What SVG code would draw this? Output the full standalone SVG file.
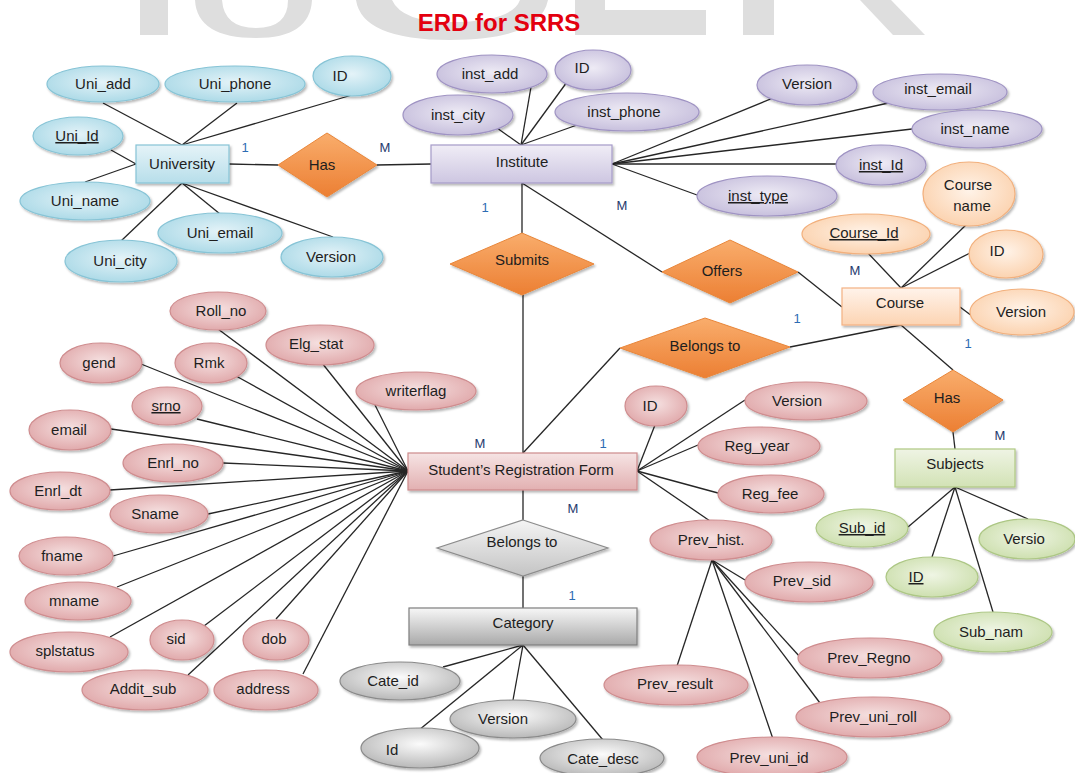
<svg xmlns="http://www.w3.org/2000/svg" width="1075" height="773" viewBox="0 0 1075 773">
<defs>
<filter id="sh" x="-20%" y="-20%" width="140%" height="150%"><feDropShadow dx="1.5" dy="2" stdDeviation="1.2" flood-color="#000" flood-opacity="0.28"/></filter>
<radialGradient id="gBlue" cx="50%" cy="45%" r="60%"><stop offset="0" stop-color="#e4f3f8"/><stop offset="1" stop-color="#a8d8e6"/></radialGradient>
<radialGradient id="gLav" cx="50%" cy="45%" r="60%"><stop offset="0" stop-color="#eeebf5"/><stop offset="1" stop-color="#c4bcdb"/></radialGradient>
<radialGradient id="gPeach" cx="50%" cy="45%" r="60%"><stop offset="0" stop-color="#fff3e8"/><stop offset="1" stop-color="#fbd0ab"/></radialGradient>
<radialGradient id="gPink" cx="50%" cy="45%" r="60%"><stop offset="0" stop-color="#f5e0e0"/><stop offset="1" stop-color="#dfa5a7"/></radialGradient>
<radialGradient id="gGreen" cx="50%" cy="45%" r="60%"><stop offset="0" stop-color="#eff5e4"/><stop offset="1" stop-color="#cbdeab"/></radialGradient>
<radialGradient id="gGrey" cx="50%" cy="40%" r="60%"><stop offset="0" stop-color="#fbfbfb"/><stop offset="1" stop-color="#b8b8b8"/></radialGradient>
<linearGradient id="rBlue" x1="0" y1="0" x2="0" y2="1"><stop offset="0" stop-color="#e5f3f8"/><stop offset="1" stop-color="#b7deea"/></linearGradient>
<linearGradient id="rLav" x1="0" y1="0" x2="0" y2="1"><stop offset="0" stop-color="#f0edf6"/><stop offset="1" stop-color="#cdc6e1"/></linearGradient>
<linearGradient id="rPeach" x1="0" y1="0" x2="0" y2="1"><stop offset="0" stop-color="#fff3ea"/><stop offset="1" stop-color="#fcd4b3"/></linearGradient>
<linearGradient id="rPink" x1="0" y1="0" x2="0" y2="1"><stop offset="0" stop-color="#f6e4e4"/><stop offset="1" stop-color="#e2b0b1"/></linearGradient>
<linearGradient id="rGreen" x1="0" y1="0" x2="0" y2="1"><stop offset="0" stop-color="#eff4e4"/><stop offset="1" stop-color="#d2e2b5"/></linearGradient>
<linearGradient id="rGrey" x1="0" y1="0" x2="0" y2="1"><stop offset="0" stop-color="#f7f7f7"/><stop offset="1" stop-color="#a9a9a9"/></linearGradient>
<linearGradient id="dOrange" x1="0" y1="0" x2="0" y2="1"><stop offset="0" stop-color="#f9ad6c"/><stop offset="1" stop-color="#ec7f33"/></linearGradient>
<linearGradient id="dGrey" x1="0" y1="0" x2="0" y2="1"><stop offset="0" stop-color="#f4f4f4"/><stop offset="1" stop-color="#c4c4c4"/></linearGradient>
</defs>
<style>
text{font-family:"Liberation Sans",Arial,sans-serif;font-size:15px;fill:#1e1e1e;text-anchor:middle}
.ul{text-decoration:underline}
.card{font-size:13px}
.one{fill:#2c6db3}
.many{fill:#1f3a6e}
.title{font-size:24px;font-weight:bold;fill:#e3000f}
.eb{fill:url(#gBlue);stroke:#87c4d6;stroke-width:1.2;filter:url(#sh)}
.el{fill:url(#gLav);stroke:#9f93c3;stroke-width:1.2;filter:url(#sh)}
.ep{fill:url(#gPeach);stroke:#f2b07d;stroke-width:1.2;filter:url(#sh)}
.ek{fill:url(#gPink);stroke:#cf8d8f;stroke-width:1.2;filter:url(#sh)}
.eg{fill:url(#gGreen);stroke:#adc785;stroke-width:1.2;filter:url(#sh)}
.ey{fill:url(#gGrey);stroke:#8a8a8a;stroke-width:1.2;filter:url(#sh)}
.rb{fill:url(#rBlue);stroke:#86c3d6;stroke-width:1.2;filter:url(#sh)}
.rl{fill:url(#rLav);stroke:#a69bc9;stroke-width:1.2;filter:url(#sh)}
.rp{fill:url(#rPeach);stroke:#f4b183;stroke-width:1.2;filter:url(#sh)}
.rk{fill:url(#rPink);stroke:#cd8b8c;stroke-width:1.2;filter:url(#sh)}
.rg{fill:url(#rGreen);stroke:#afc982;stroke-width:1.2;filter:url(#sh)}
.ry{fill:url(#rGrey);stroke:#7f7f7f;stroke-width:1.2;filter:url(#sh)}
.dor{fill:url(#dOrange);stroke:#e8863a;stroke-width:1;filter:url(#sh)}
.dgr{fill:url(#dGrey);stroke:#8c8c8c;stroke-width:1.2;filter:url(#sh)}
#connectors line{stroke:#262626;stroke-width:1.3}
.wm{fill:#dedede}
</style>
<rect width="1075" height="773" fill="#ffffff"/>
<g id="watermark">
<rect class="wm" x="140" y="0" width="28" height="35"/>
<path class="wm" d="M195,0 L222,0 Q224,28 256,28 Q288,28 288,0 L312,0 Q310,38 256,38 Q197,38 195,0 Z"/>
<path class="wm" d="M356,0 L392,0 Q402,22 450,22 Q512,22 520,0 L548,0 Q540,40 450,40 Q362,40 356,0 Z"/>
<path class="wm" d="M575,0 L605,0 L605,10 L706,10 L706,35 L575,35 Z"/>
<rect class="wm" x="743" y="0" width="31" height="35"/>
<path class="wm" d="M860,0 L891,0 L925,35 L893,35 Z"/>
</g>
<text class="title" x="499" y="31">ERD for SRRS</text>
<g id="connectors">
<line x1="182" y1="145" x2="103" y2="103"/>
<line x1="182" y1="145" x2="237" y2="103"/>
<line x1="182" y1="145" x2="352" y2="95"/>
<line x1="111" y1="150" x2="136" y2="164"/>
<line x1="85" y1="182" x2="136" y2="164"/>
<line x1="182" y1="183" x2="121" y2="241"/>
<line x1="182" y1="183" x2="220" y2="214"/>
<line x1="182" y1="183" x2="333" y2="237"/>
<line x1="229" y1="164" x2="278" y2="165"/>
<line x1="377" y1="165" x2="431" y2="164"/>
<line x1="521" y1="145" x2="497" y2="128"/>
<line x1="521" y1="145" x2="531" y2="87"/>
<line x1="521" y1="145" x2="567" y2="82"/>
<line x1="521" y1="145" x2="577" y2="125"/>
<line x1="612" y1="164" x2="773" y2="98"/>
<line x1="612" y1="164" x2="893" y2="102"/>
<line x1="612" y1="164" x2="912" y2="129"/>
<line x1="612" y1="164" x2="837" y2="164"/>
<line x1="612" y1="164" x2="697" y2="195"/>
<line x1="522" y1="183" x2="522" y2="233"/>
<line x1="522" y1="183" x2="662" y2="272"/>
<line x1="798" y1="272" x2="842" y2="307"/>
<line x1="523" y1="295" x2="523" y2="453"/>
<line x1="620" y1="348" x2="523" y2="453"/>
<line x1="790" y1="347" x2="901" y2="325"/>
<line x1="901" y1="288" x2="867" y2="252"/>
<line x1="901" y1="288" x2="968" y2="223"/>
<line x1="901" y1="288" x2="970" y2="253"/>
<line x1="960" y1="307" x2="972" y2="316"/>
<line x1="901" y1="325" x2="953" y2="370"/>
<line x1="953" y1="432" x2="955" y2="449"/>
<line x1="955" y1="487" x2="908" y2="527"/>
<line x1="955" y1="487" x2="932" y2="557"/>
<line x1="955" y1="487" x2="993" y2="612"/>
<line x1="955" y1="487" x2="1028" y2="519"/>
<line x1="637" y1="471" x2="655" y2="425"/>
<line x1="637" y1="471" x2="745" y2="400"/>
<line x1="637" y1="471" x2="698" y2="445"/>
<line x1="637" y1="471" x2="718" y2="493"/>
<line x1="637" y1="471" x2="710" y2="521"/>
<line x1="712" y1="560" x2="745" y2="580"/>
<line x1="712" y1="560" x2="800" y2="657"/>
<line x1="712" y1="560" x2="677" y2="666"/>
<line x1="712" y1="560" x2="820" y2="703"/>
<line x1="712" y1="560" x2="773" y2="739"/>
<line x1="408" y1="471" x2="218" y2="329"/>
<line x1="408" y1="471" x2="322" y2="363"/>
<line x1="408" y1="471" x2="141" y2="364"/>
<line x1="408" y1="471" x2="236" y2="376"/>
<line x1="408" y1="471" x2="375" y2="405"/>
<line x1="408" y1="471" x2="197" y2="419"/>
<line x1="408" y1="471" x2="111" y2="429"/>
<line x1="408" y1="471" x2="223" y2="463"/>
<line x1="408" y1="471" x2="110" y2="490"/>
<line x1="408" y1="471" x2="208" y2="514"/>
<line x1="408" y1="471" x2="113" y2="556"/>
<line x1="408" y1="471" x2="117" y2="587"/>
<line x1="408" y1="471" x2="110" y2="637"/>
<line x1="408" y1="471" x2="204" y2="626"/>
<line x1="408" y1="471" x2="276" y2="619"/>
<line x1="408" y1="471" x2="188" y2="675"/>
<line x1="408" y1="471" x2="303" y2="674"/>
<line x1="523" y1="490" x2="523" y2="520"/>
<line x1="523" y1="576" x2="523" y2="608"/>
<line x1="523" y1="645" x2="443" y2="667"/>
<line x1="523" y1="645" x2="513" y2="700"/>
<line x1="523" y1="645" x2="419" y2="730"/>
<line x1="523" y1="645" x2="603" y2="740"/>
</g>
<g id="cardinalities">
<text class="card one" x="245" y="152">1</text>
<text class="card many" x="385" y="152">M</text>
<text class="card one" x="485" y="212">1</text>
<text class="card many" x="622" y="210">M</text>
<text class="card many" x="855" y="275">M</text>
<text class="card one" x="797" y="323">1</text>
<text class="card one" x="968" y="348">1</text>
<text class="card many" x="1000" y="440">M</text>
<text class="card many" x="480" y="448">M</text>
<text class="card one" x="603" y="448">1</text>
<text class="card many" x="573" y="513">M</text>
<text class="card one" x="572" y="600">1</text>
</g>
<g id="university"><rect class="rb" x="136" y="145" width="93" height="38"/><text x="182" y="169">University</text></g>
<g id="uni_add"><ellipse class="eb" cx="103" cy="84" rx="56" ry="18"/><text x="103" y="89">Uni_add</text></g>
<g id="uni_phone"><ellipse class="eb" cx="235" cy="84" rx="70" ry="18"/><text x="235" y="89">Uni_phone</text></g>
<g id="uni_idattr"><ellipse class="eb" cx="352" cy="76" rx="39" ry="20"/><text x="340" y="81">ID</text></g>
<g id="uni_id"><ellipse class="eb" cx="78" cy="136" rx="45" ry="19"/><text class="ul" x="77" y="141">Uni_Id</text></g>
<g id="uni_name"><ellipse class="eb" cx="85" cy="201" rx="65" ry="19"/><text x="85" y="206">Uni_name</text></g>
<g id="uni_email"><ellipse class="eb" cx="220" cy="233" rx="62" ry="20"/><text x="220" y="238">Uni_email</text></g>
<g id="uni_city"><ellipse class="eb" cx="121" cy="261" rx="56" ry="21"/><text x="120" y="266">Uni_city</text></g>
<g id="uni_version"><ellipse class="eb" cx="332" cy="257" rx="51" ry="20"/><text x="331" y="262">Version</text></g>
<g id="has1"><polygon class="dor" points="327,133 377,165 327,197 278,165"/><text x="322" y="170">Has</text></g>
<g id="institute"><rect class="rl" x="431" y="145" width="181" height="38"/><text x="522" y="167">Institute</text></g>
<g id="inst_add"><ellipse class="el" cx="492" cy="74" rx="55" ry="19"/><text x="490" y="79">inst_add</text></g>
<g id="inst_idattr"><ellipse class="el" cx="593" cy="70" rx="38" ry="20"/><text x="582" y="73">ID</text></g>
<g id="inst_city"><ellipse class="el" cx="458" cy="115" rx="55" ry="20"/><text x="458" y="120">inst_city</text></g>
<g id="inst_phone"><ellipse class="el" cx="627" cy="112" rx="72" ry="19"/><text x="624" y="117">inst_phone</text></g>
<g id="inst_version"><ellipse class="el" cx="807" cy="85" rx="50" ry="20"/><text x="807" y="89">Version</text></g>
<g id="inst_email"><ellipse class="el" cx="940" cy="92" rx="67" ry="18"/><text x="938" y="94">inst_email</text></g>
<g id="inst_name"><ellipse class="el" cx="977" cy="129" rx="65" ry="19"/><text x="975" y="134">inst_name</text></g>
<g id="inst_id"><ellipse class="el" cx="881" cy="165" rx="45" ry="20"/><text class="ul" x="881" y="170">inst_Id</text></g>
<g id="inst_type"><ellipse class="el" cx="767" cy="196" rx="70" ry="20"/><text class="ul" x="758" y="201">inst_type</text></g>
<g id="submits"><polygon class="dor" points="522,233 594,264 522,295 450,264"/><text x="522" y="265">Submits</text></g>
<g id="offers"><polygon class="dor" points="730,240 798,272 730,303 662,272"/><text x="722" y="276">Offers</text></g>
<g id="course"><rect class="rp" x="842" y="288" width="118" height="37"/><text x="900" y="308">Course</text></g>
<g id="course_name"><ellipse class="ep" cx="969" cy="194" rx="46" ry="32"/><text x="968" y="190">Course</text><text x="972" y="211">name</text></g>
<g id="course_id"><ellipse class="ep" cx="866" cy="234" rx="64" ry="20"/><text class="ul" x="864" y="238">Course_Id</text></g>
<g id="course_idattr"><ellipse class="ep" cx="1006" cy="254" rx="37" ry="24"/><text x="997" y="256">ID</text></g>
<g id="course_version"><ellipse class="ep" cx="1022" cy="312" rx="52" ry="23"/><text x="1021" y="317">Version</text></g>
<g id="belongs_to_course"><polygon class="dor" points="705,318 790,347 705,378 620,348"/><text x="705" y="351">Belongs to</text></g>
<g id="has2"><polygon class="dor" points="953,370 1003,400 953,432 903,400"/><text x="947" y="403">Has</text></g>
<g id="subjects"><rect class="rg" x="895" y="449" width="120" height="38"/><text x="955" y="469">Subjects</text></g>
<g id="sub_id"><ellipse class="eg" cx="862" cy="528" rx="46" ry="19"/><text class="ul" x="862" y="533">Sub_id</text></g>
<g id="sub_version"><ellipse class="eg" cx="1027" cy="539" rx="48" ry="20"/><text x="1024" y="544">Versio</text></g>
<g id="sub_idattr"><ellipse class="eg" cx="932" cy="577" rx="46" ry="20"/><text class="ul" x="916" y="582">ID</text></g>
<g id="sub_nam"><ellipse class="eg" cx="993" cy="632" rx="59" ry="20"/><text x="991" y="637">Sub_nam</text></g>
<g id="student_form"><rect class="rk" x="408" y="453" width="229" height="37"/><text x="521" y="475">Student’s Registration Form</text></g>
<g id="sf_idattr"><ellipse class="ek" cx="656" cy="406" rx="31" ry="20"/><text x="650" y="411">ID</text></g>
<g id="sf_version"><ellipse class="ek" cx="806" cy="401" rx="61" ry="19"/><text x="797" y="406">Version</text></g>
<g id="reg_year"><ellipse class="ek" cx="759" cy="446" rx="61" ry="19"/><text x="757" y="451">Reg_year</text></g>
<g id="reg_fee"><ellipse class="ek" cx="771" cy="494" rx="53" ry="19"/><text x="770" y="499">Reg_fee</text></g>
<g id="prev_hist"><ellipse class="ek" cx="711" cy="540" rx="61" ry="20"/><text x="711" y="545">Prev_hist.</text></g>
<g id="prev_sid"><ellipse class="ek" cx="809" cy="582" rx="64" ry="20"/><text x="802" y="586">Prev_sid</text></g>
<g id="prev_regno"><ellipse class="ek" cx="870" cy="658" rx="72" ry="20"/><text x="869" y="663">Prev_Regno</text></g>
<g id="prev_result"><ellipse class="ek" cx="676" cy="685" rx="72" ry="20"/><text x="675" y="689">Prev_result</text></g>
<g id="prev_uni_roll"><ellipse class="ek" cx="873" cy="717" rx="77" ry="20"/><text x="873" y="722">Prev_uni_roll</text></g>
<g id="prev_uni_id"><ellipse class="ek" cx="772" cy="757" rx="75" ry="20"/><text x="769" y="763">Prev_uni_id</text></g>
<g id="roll_no"><ellipse class="ek" cx="218" cy="311" rx="48" ry="19"/><text x="221" y="316">Roll_no</text></g>
<g id="elg_stat"><ellipse class="ek" cx="320" cy="345" rx="54" ry="20"/><text x="316" y="349">Elg_stat</text></g>
<g id="gend"><ellipse class="ek" cx="101" cy="363" rx="41" ry="20"/><text x="99" y="368">gend</text></g>
<g id="rmk"><ellipse class="ek" cx="211" cy="363" rx="36" ry="20"/><text x="209" y="368">Rmk</text></g>
<g id="writerflag"><ellipse class="ek" cx="416" cy="391" rx="60" ry="19"/><text x="416" y="396">writerflag</text></g>
<g id="srno"><ellipse class="ek" cx="167" cy="406" rx="35" ry="19"/><text class="ul" x="166" y="411">srno</text></g>
<g id="email"><ellipse class="ek" cx="70" cy="430" rx="41" ry="20"/><text x="69" y="435">email</text></g>
<g id="enrl_no"><ellipse class="ek" cx="173" cy="463" rx="50" ry="19"/><text x="173" y="468">Enrl_no</text></g>
<g id="enrl_dt"><ellipse class="ek" cx="60" cy="491" rx="50" ry="19"/><text x="58" y="496">Enrl_dt</text></g>
<g id="sname"><ellipse class="ek" cx="159" cy="514" rx="49" ry="19"/><text x="155" y="519">Sname</text></g>
<g id="fname"><ellipse class="ek" cx="66" cy="556" rx="47" ry="19"/><text x="62" y="561">fname</text></g>
<g id="mname"><ellipse class="ek" cx="78" cy="601" rx="53" ry="19"/><text x="74" y="606">mname</text></g>
<g id="splstatus"><ellipse class="ek" cx="69" cy="652" rx="59" ry="20"/><text x="65" y="656">splstatus</text></g>
<g id="sid"><ellipse class="ek" cx="182" cy="640" rx="32" ry="20"/><text x="176" y="644">sid</text></g>
<g id="dob"><ellipse class="ek" cx="276" cy="640" rx="33" ry="20"/><text x="274" y="644">dob</text></g>
<g id="addit_sub"><ellipse class="ek" cx="145" cy="690" rx="63" ry="20"/><text x="143" y="694">Addit_sub</text></g>
<g id="address"><ellipse class="ek" cx="266" cy="690" rx="52" ry="20"/><text x="263" y="694">address</text></g>
<g id="belongs_to_category"><polygon class="dgr" points="523,520 608,548 523,576 437,548"/><text x="522" y="547">Belongs to</text></g>
<g id="category"><rect class="ry" x="409" y="608" width="228" height="37"/><text x="523" y="628">Category</text></g>
<g id="cate_id"><ellipse class="ey" cx="400" cy="681" rx="60" ry="19"/><text x="393" y="686">Cate_id</text></g>
<g id="cate_version"><ellipse class="ey" cx="513" cy="719" rx="63" ry="19"/><text x="503" y="724">Version</text></g>
<g id="cate_idattr"><ellipse class="ey" cx="420" cy="748" rx="59" ry="20"/><text x="392" y="755">Id</text></g>
<g id="cate_desc"><ellipse class="ey" cx="602" cy="758" rx="62" ry="19"/><text x="603" y="764">Cate_desc</text></g>
</svg>
